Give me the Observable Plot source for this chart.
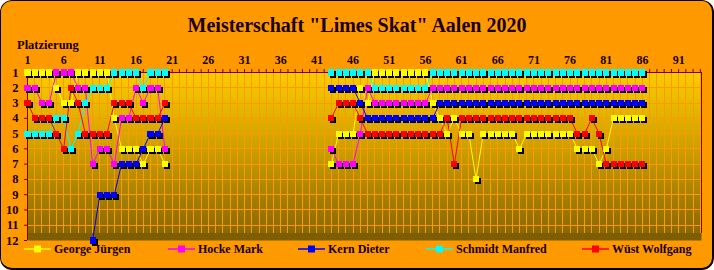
<!DOCTYPE html>
<html>
<head>
<meta charset="utf-8">
<script src="https://cdn.jsdelivr.net/npm/d3@7"></script>
<script src="https://cdn.jsdelivr.net/npm/@observablehq/plot@0.6"></script>
<style>
  html, body { margin: 0; padding: 0; background: #ffffff; }
  #wrap { position: relative; width: 714px; height: 270px; background: #ff9900; border-radius: 12px; overflow: hidden;
          font-family: "Liberation Serif", "Times New Roman", serif; color: #1a0000; }
  #border { position: absolute; left: 0; top: 0; width: 714px; height: 270px; box-sizing: border-box;
            border: 1px solid #000; border-right-width: 2px; border-bottom-width: 2px; border-radius: 12px; pointer-events: none; }
  #title { position: absolute; left: 0; width: 714px; top: 13px; text-align: center; font-size: 20px; font-weight: bold; line-height: 24px; white-space: nowrap; }
  #xlabel { position: absolute; left: 17px; top: 39px; font-size: 12.5px; font-weight: bold; line-height: 12px; }
  #chart { position: absolute; left: 0; top: 0; }
  .leg { position: absolute; top: 242px; height: 14px; display: flex; align-items: center; font-size: 12px; font-weight: bold; line-height: 14px; white-space: nowrap; }
  .leg svg { margin-right: 3px; }
</style>
</head>
<body>
<div id="wrap">
  <div id="chart"></div>
  <div id="title">Meisterschaft "Limes Skat" Aalen 2020</div>
  <div id="xlabel">Platzierung</div>
  <div id="legend"></div>
  <div id="border"></div>
</div>
<script>
// ---- data ----
const players = ["George Jürgen", "Hocke Mark", "Kern Dieter", "Schmidt Manfred", "Wüst Wolfgang"];
const colors  = ["#ffff00", "#ff00ff", "#0000ff", "#00ffff", "#ff0000"];

// rounds 1..20 and 43..86
const roundsA = [1,2,3,4,5,6,7,8,9,10,11,12,13,14,15,16,17,18,19,20];
const roundsB = [43,44,45,46,47,48,49,50,51,52,53,54,55,56,57,58,59,60,61,62,63,64,65,
                 66,67,68,69,70,71,72,73,74,75,76,77,78,79,80,81,82,83,84,85,86];

const georgeA  = [1,1,1,1,2,3,3,1,1,1,1,1,4,6,6,6,7,6,6,7];
const hockeA   = [2,2,3,3,1,1,1,2,2,7,6,6,7,4,4,2,3,2,2,6];
const kernA    = [null,null,null,null,null,null,null,null,null,12,9,9,9,7,7,7,6,5,5,4];
const schmidtA = [5,5,5,5,4,4,6,5,3,2,2,2,1,1,1,1,2,1,1,1];
const wuestA   = [3,4,4,4,5,6,2,3,5,5,5,5,3,3,3,4,4,4,4,3];

const georgeB  = [7,5,5,5,2,3,1,1,1,1,1,1,1,1,3,4,5,4,5,5,8,5,5,5,5,5,6,5,5,5,5,5,5,5,6,6,6,7,6,4,4,4,4,4];
const hockeB   = [6,7,7,7,5,2,3,3,3,3,3,3,3,3,2,2,2,2,2,2,2,2,2,2,2,2,2,2,2,2,2,2,2,2,2,2,2,2,2,2,2,2,2,2];
const kernB    = [2,2,2,2,3,4,4,4,4,4,4,4,4,4,4,3,3,3,3,3,3,3,3,3,3,3,3,3,3,3,3,3,3,3,3,3,3,3,3,3,3,3,3,3];
const schmidtB = [1,1,1,1,1,1,2,2,2,2,2,2,2,2,1,1,1,1,1,1,1,1,1,1,1,1,1,1,1,1,1,1,1,1,1,1,1,1,1,1,1,1,1,1];
const wuestB   = [4,3,3,3,4,5,5,5,5,5,5,5,5,5,5,5,4,7,4,4,4,4,4,4,4,4,4,4,4,4,4,4,4,4,5,5,4,5,7,7,7,7,7,7];

const xTicks = [1,6,11,16,21,26,31,36,41,46,51,56,61,66,71,76,81,86,91];
const yTicks = [1,2,3,4,5,6,7,8,9,10,11,12];

const seriesA = [georgeA, hockeA, kernA, schmidtA, wuestA];
const seriesB = [georgeB, hockeB, kernB, schmidtB, wuestB];

const rows = [];
players.forEach((p, i) => {
  [[roundsA, seriesA[i], "A"], [roundsB, seriesB[i], "B"]].forEach(([rs, vs, s]) => {
    rs.forEach((r, j) => { if (vs[j] != null) rows.push({player: p, round: r, rank: vs[j], seg: p + s}); });
  });
});

const axisColor = "#800000";
const textColor = "#1a0000";
const gridColor = "#ff9900";

const chart = Plot.plot({
  width: 714, height: 270,
  marginLeft: 27, marginRight: 13, marginTop: 72, marginBottom: 30,
  style: {background: "transparent", fontFamily: "'Liberation Serif', serif", fontSize: "12px", fontWeight: "bold", color: textColor, overflow: "visible"},
  x: {domain: [1, 94.16], axis: null},
  y: {domain: [12, 1], axis: null},
  color: {domain: players, range: colors},
  marks: [
    Plot.frame({fill: "url(#bggrad)", stroke: "none"}),
    Plot.ruleY(yTicks.slice(1, -1), {stroke: gridColor, strokeWidth: 1, shapeRendering: "crispEdges"}),
    Plot.ruleX(d3.range(2, 95), {y1: 1, y2: 11.55, stroke: gridColor, strokeWidth: 1, shapeRendering: "crispEdges"}),
    Plot.ruleY([1], {stroke: axisColor, shapeRendering: "crispEdges"}),
    Plot.ruleX([1], {stroke: axisColor, shapeRendering: "crispEdges"}),
    Plot.ruleX([94.16], {y1: 1, y2: 11.55, stroke: axisColor, shapeRendering: "crispEdges"}),
    Plot.axisX(d3.range(1, 95), {anchor: "top", tickSize: 4, tickFormat: () => "", stroke: axisColor, label: null}),
    Plot.axisX(xTicks, {anchor: "top", tickSize: 0, tickPadding: 9, fill: textColor, fontSize: 12, fontWeight: "bold", label: null}),
    Plot.axisY(yTicks, {anchor: "left", tickSize: 3, tickPadding: 6, stroke: axisColor, fill: textColor, fontSize: 12.5, fontWeight: "bold", label: null}),
    Plot.line(rows, {x: "round", y: "rank", z: "seg", stroke: "player", strokeWidth: 1}),
    Plot.dot(rows, {x: "round", y: "rank", symbol: "square", r: 3.4, fill: "black", stroke: "none", dx: 2, dy: 2, shapeRendering: "crispEdges"}),
    Plot.dot(rows, {x: "round", y: "rank", symbol: "square", r: 3.4, fill: "player", stroke: "none", shapeRendering: "crispEdges"})
  ]
});

const svg = d3.select(chart);
const grad = svg.insert("defs", ":first-child").append("linearGradient")
  .attr("id", "bggrad").attr("x1", 0).attr("y1", 0).attr("x2", 0).attr("y2", 1);
[[0, "#fccb00"], [0.5, "#c79a00"], [0.955, "#8a6800"], [0.955, "#7c5e00"], [1, "#7c5e00"]]
  .forEach(([o, c]) => grad.append("stop").attr("offset", o).attr("stop-color", c));

document.getElementById("chart").appendChild(chart);

// legend
const legLeft = [24, 168, 298, 426, 582];
const legend = document.getElementById("legend");
players.forEach((p, i) => {
  const d = document.createElement("div");
  d.className = "leg";
  d.style.left = legLeft[i] + "px";
  d.innerHTML = `<svg width="27" height="10"><line x1="0" x2="27" y1="5" y2="5" stroke="${colors[i]}" stroke-width="1.5"/>` +
    `<rect x="10" y="1.5" width="7" height="7" fill="${colors[i]}"/></svg><span>${p}</span>`;
  legend.appendChild(d);
});
</script>
</body>
</html>
